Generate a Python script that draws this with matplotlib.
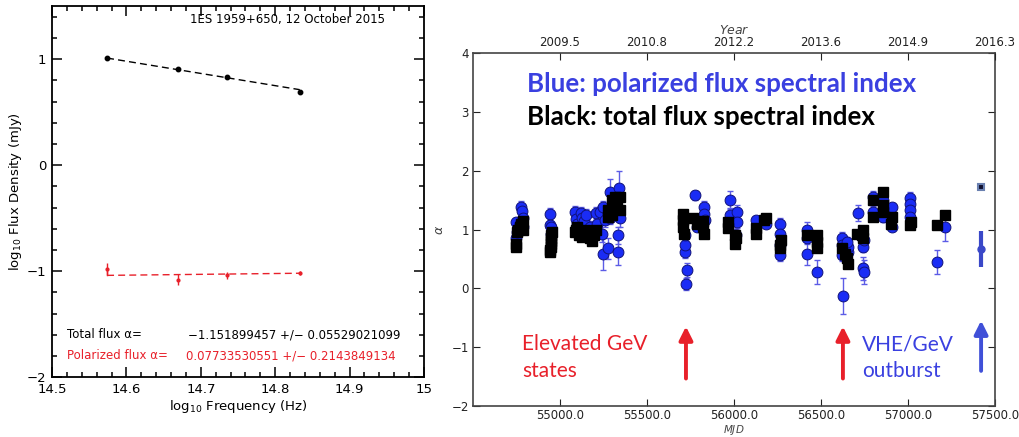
import numpy as np
import matplotlib
matplotlib.use("Agg")
import matplotlib.pyplot as plt
from matplotlib.ticker import MultipleLocator

# ---- left panel: 1ES 1959+650 spectrum, 12 October 2015 ----
log_freq = [14.574, 14.670, 14.735, 14.833]
total_flux = [1.01, 0.91, 0.83, 0.69]
pol_flux = [-0.98, -1.08, -1.04, -1.02]
pol_flux_err = [0.06, 0.05, 0.03, 0.02]
alpha_total, alpha_total_err = -1.151899457, 0.05529021099
alpha_pol, alpha_pol_err = 0.07733530551, 0.2143849134
fit_start_total = 1.01
fit_start_pol = -1.04

# ---- right panel: spectral index vs MJD ----
pol_mjd = [54745, 54750, 54755, 54765, 54772, 54778, 54782, 54786, 54790,
           54940, 54945, 54948, 54950,
           55085, 55090, 55095, 55120, 55125, 55140, 55150, 55175, 55185, 55205, 55212,
           55230, 55240, 55249, 55249, 55259, 55278, 55287, 55290, 55305, 55335, 55335, 55340, 55345,
           55725, 55728, 55720, 55718, 55720, 55776, 55828, 55830, 55835, 55790, 55810,
           55977, 55977, 56015, 56015, 56012,
           56126, 56184,
           56264, 56264, 56264, 56264,
           56418, 56418, 56418, 56476,
           56625, 56620, 56620, 56620, 56657, 56657, 56648,
           56715, 56743, 56743, 56745, 56748,
           56800, 56800, 56858, 56858, 56860,
           56910, 56910,
           57011, 57011, 57013, 57011,
           57165, 57213]
pol_alpha = [1.12, 0.85, 0.95, 1.00, 1.10, 1.38, 1.32, 1.05, 1.20,
             1.27, 1.08, 1.05, 0.93,
             1.30, 1.18, 1.10, 1.28, 1.20, 1.15, 1.25, 1.05, 0.95, 1.28, 1.10,
             1.30, 0.93, 1.39, 0.59, 1.16, 0.68, 1.64, 1.20, 1.28, 0.62, 0.90, 1.70, 1.20,
             0.08, 0.31, 0.62, 0.74, 0.91, 1.58, 1.39, 1.27, 1.16, 1.05, 1.10,
             1.51, 1.25, 1.29, 1.13, 0.91,
             1.16, 1.10,
             1.10, 0.93, 0.74, 0.57,
             0.99, 0.85, 0.59, 0.28,
             -0.13, 0.85, 0.74, 0.57, 0.62, 0.70, 0.78,
             1.28, 0.71, 0.34, 0.28, 0.82,
             1.56, 1.30, 1.22, 1.50, 1.36,
             1.38, 1.05,
             1.53, 1.44, 1.33, 1.22,
             0.45, 1.05]
pol_err = [0.08, 0.08, 0.08, 0.08, 0.08, 0.10, 0.10, 0.08, 0.10,
           0.10, 0.10, 0.10, 0.10,
           0.10, 0.10, 0.10, 0.10, 0.10, 0.10, 0.10, 0.10, 0.10, 0.10, 0.10,
           0.10, 0.15, 0.10, 0.28, 0.12, 0.18, 0.22, 0.10, 0.12, 0.23, 0.15, 0.30, 0.15,
           0.10, 0.12, 0.10, 0.10, 0.10, 0.08, 0.10, 0.10, 0.10, 0.08, 0.08,
           0.15, 0.10, 0.12, 0.10, 0.10,
           0.06, 0.06,
           0.10, 0.08, 0.08, 0.10,
           0.13, 0.10, 0.20, 0.20,
           0.30, 0.10, 0.10, 0.10, 0.10, 0.10, 0.10,
           0.13, 0.10, 0.20, 0.20, 0.10,
           0.10, 0.10, 0.10, 0.10, 0.10,
           0.07, 0.07,
           0.10, 0.10, 0.10, 0.10,
           0.20, 0.25]

tot_mjd = [54745, 54750, 54755, 54760, 54770, 54778, 54785, 54790,
           54945, 54945, 54947, 54947, 54948, 54950, 54950, 54952,
           55085, 55090, 55095, 55110, 55125, 55130, 55145, 55170, 55185, 55195, 55205,
           55278, 55278, 55297, 55316, 55345, 55345, 55330, 55300,
           55709, 55709, 55709, 55712, 55766, 55823, 55825, 55820, 55790,
           55968, 55968, 56005, 56005, 56010,
           56126, 56126, 56175, 56184,
           56264, 56264, 56268,
           56418, 56476, 56476, 56476,
           56620, 56648, 56657, 56640,
           56705, 56743, 56743, 56735,
           56800, 56800, 56858, 56858, 56858,
           56902, 56910,
           57011, 57015,
           57165, 57213]
tot_alpha = [0.70, 0.75, 0.95, 1.00, 1.05, 1.10, 1.15, 1.00,
             0.62, 0.66, 0.70, 0.75, 0.80, 0.85, 0.90, 0.95,
             0.95, 1.00, 1.05, 0.90, 0.88, 0.95, 1.00, 0.85, 0.80, 0.90, 1.00,
             1.33, 1.22, 1.50, 1.56, 1.56, 1.33, 1.40, 1.25,
             1.27, 1.16, 1.05, 0.93, 1.19, 1.05, 0.93, 1.15, 1.10,
             1.02, 1.13, 0.76, 0.91, 0.85,
             0.93, 1.02, 1.16, 1.19,
             0.68, 0.74, 0.82,
             0.91, 0.91, 0.79, 0.68,
             0.68, 0.51, 0.42, 0.59,
             0.93, 0.99, 0.85, 0.90,
             1.22, 1.50, 1.64, 1.41, 1.30,
             1.10, 1.22,
             1.08, 1.13,
             1.08, 1.25]

# 2016 outburst epoch
new_mjd = [57420]
new_pol_alpha = [0.67]
new_pol_err = [0.30]
new_tot_alpha = [1.72]

mjd_ticks = [55000, 55500, 56000, 56500, 57000, 57500]
year_labels = ["2009.5", "2010.8", "2012.2", "2013.6", "2014.9", "2016.3"]

red_arrow_mjd = [55724, 56626]
blue_arrow_mjd = [57420]

fig = plt.figure(figsize=(10.2, 4.37), dpi=100)

# ================= left panel =================
ax1 = fig.add_axes([0.051, 0.137, 0.3647, 0.849])
red = "#e8202a"
ax1.plot(log_freq, total_flux, "o", color="black", ms=3.2)
x_fit = np.array([log_freq[0], log_freq[-1]])
ax1.plot(x_fit, fit_start_total + alpha_total * (x_fit - log_freq[0]),
         "--", color="black", lw=1, dashes=(5, 3))
ax1.errorbar(log_freq, pol_flux, yerr=pol_flux_err, fmt="o", color=red,
             ms=2, elinewidth=1, capsize=0)
ax1.plot(x_fit, fit_start_pol + alpha_pol * (x_fit - log_freq[0]),
         "--", color=red, lw=1, dashes=(5, 3))
ax1.plot([log_freq[0], log_freq[0]], [pol_flux[0], fit_start_pol], color=red, lw=1)

ax1.set_xlim(14.5, 15)
ax1.set_ylim(-2, 1.5)
ax1.set_xticks([14.5, 14.6, 14.7, 14.8, 14.9, 15])
ax1.set_xticklabels(["14.5", "14.6", "14.7", "14.8", "14.9", "15"])
ax1.set_yticks([-2, -1, 0, 1])
ax1.set_yticklabels(["\u22122", "\u22121", "0", "1"])
ax1.xaxis.set_minor_locator(MultipleLocator(0.02))
ax1.yaxis.set_minor_locator(MultipleLocator(0.2))
ax1.tick_params(which="both", direction="in", top=True, right=True,
                labelsize=9.5, pad=4, width=1.1)
ax1.tick_params(which="major", length=7)
ax1.tick_params(which="minor", length=3.5)
for s in ax1.spines.values():
    s.set_linewidth(1.3)
ax1.set_xlabel(r"log$_{10}$ Frequency (Hz)", fontsize=9.5, labelpad=2)
ax1.set_ylabel(r"log$_{10}$ Flux Density (mJy)", fontsize=9.5, labelpad=2)
ax1.text(14.817, 1.37, "1ES 1959+650, 12 October 2015", fontsize=8.5,
         ha="center", va="center")
ax1.text(14.52, -1.6, "Total flux \u03b1=", fontsize=8.5, va="center")
ax1.text(14.683, -1.6, f"\u2212{abs(alpha_total):.9f} +/\u2212 {alpha_total_err:.11f}",
         fontsize=8.5, va="center")
ax1.text(14.52, -1.8, "Polarized flux \u03b1=", fontsize=8.5, va="center", color=red)
ax1.text(14.68, -1.8, f"{alpha_pol:.11f} +/\u2212 {alpha_pol_err:.10f}",
         fontsize=8.5, va="center", color=red)

# ================= right panel =================
ax2 = fig.add_axes([0.4637, 0.0709, 0.5118, 0.8078])
ax2.errorbar(pol_mjd, pol_alpha, yerr=pol_err, fmt="none", ecolor="#5c5ce6",
             elinewidth=1, capsize=2, zorder=2)
ax2.plot(pol_mjd, pol_alpha, "o", color="#1a2cf5", mec="#10127a", mew=0.7,
         ms=7.8, zorder=3)
ax2.plot(tot_mjd, tot_alpha, "s", color="black", ms=7.2, zorder=4)
ax2.errorbar(new_mjd, new_pol_alpha, yerr=new_pol_err, fmt="o", color="#3a48c8",
             ms=5, elinewidth=3, capsize=0, zorder=3)
ax2.plot(new_mjd, new_tot_alpha, "s", color="#101030", mec="#6a80b0", mew=1.5,
         ms=5, zorder=4)

ax2.set_xlim(54500, 57500)
ax2.set_ylim(-2, 4)
ax2.set_xticks(mjd_ticks)
ax2.set_xticklabels([f"{m:.1f}" for m in mjd_ticks])
ax2.set_yticks(range(-2, 5))
ax2.set_yticklabels(["\u22122", "\u22121", "0", "1", "2", "3", "4"])
ax2.tick_params(direction="in", length=5, width=0.8, right=True,
                labelsize=8.5, colors="#222222", pad=3)
ax2.tick_params(axis="x", pad=2)
for s in ax2.spines.values():
    s.set_linewidth(1.2)
    s.set_color("#444444")
ax2.set_xlabel("$MJD$", fontsize=7.5, color="#444444", va="center")
ax2.xaxis.set_label_coords(0.5, -0.068)
ax2.set_ylabel(r"$\alpha$", fontsize=9, labelpad=4, color="#444444")

top = ax2.twiny()
top.set_xlim(ax2.get_xlim())
top.set_xticks(mjd_ticks)
top.set_xticklabels(year_labels)
top.tick_params(direction="in", length=5, width=0.8, labelsize=8.5,
                colors="#222222", pad=3)
top.set_xlabel("$Year$", fontsize=9, labelpad=1, color="#444444")
for s in top.spines.values():
    s.set_visible(False)

blue_txt = "#3a40e0"
ax2.text(54810, 3.47, "Blue: polarized flux spectral index", family="Lato",
         fontweight="bold", fontsize=18.6, color=blue_txt, va="center")
ax2.text(54810, 2.91, "Black: total flux spectral index", family="Lato",
         fontweight="bold", fontsize=18.6, color="black", va="center")
ax2.text(54782, -1.18, "Elevated GeV\nstates", family="Lato", fontsize=15,
         color=red, va="center", linespacing=1.45)
ax2.text(56736, -1.18, "VHE/GeV\noutburst", family="Lato", fontsize=15,
         color=blue_txt, va="center", linespacing=1.45)

for m in red_arrow_mjd:
    ax2.annotate("", xy=(m, -0.6), xytext=(m, -1.58),
                 arrowprops=dict(arrowstyle="-|>,head_width=0.4,head_length=0.8",
                                 color=red, lw=2.8))
for m in blue_arrow_mjd:
    ax2.annotate("", xy=(m, -0.5), xytext=(m, -1.45),
                 arrowprops=dict(arrowstyle="-|>,head_width=0.4,head_length=0.8",
                                 color="#4050d8", lw=2.8))

fig.savefig("out.png", dpi=100)
